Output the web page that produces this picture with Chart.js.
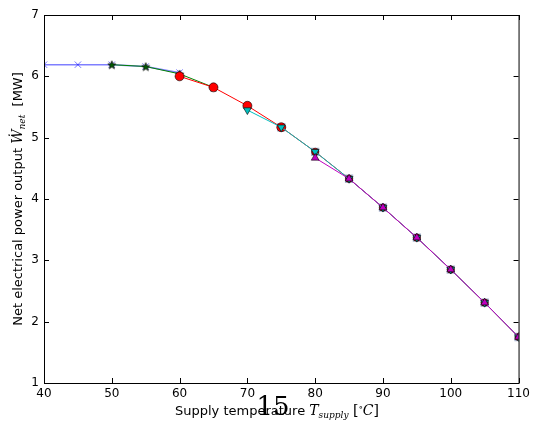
<!DOCTYPE html>
<html>
<head>
<meta charset="utf-8">
<script src="https://cdn.jsdelivr.net/npm/chart.js@4.4.9/dist/chart.umd.min.js"></script>
<style>
  html, body { margin:0; padding:0; background:#fff; }
  #wrap { width:534px; height:423px; position:relative; }
</style>
</head>
<body>
<div id="wrap"><canvas id="c"></canvas></div>
<script>
/* data */
const xTicks = [40, 50, 60, 70, 80, 90, 100, 110];
const yTicks = [1, 2, 3, 4, 5, 6, 7];

const blueT   = [40, 45, 50, 55, 60];
const blueW   = [6.19, 6.19, 6.19, 6.16, 6.06];
const greenT  = [50, 55, 60, 65];
const greenW  = [6.19, 6.16, 6.04, 5.82];
const redT    = [60, 65, 70, 75, 80, 85, 90, 95, 100, 105, 110];
const redW    = [6.00, 5.82, 5.52, 5.17, 4.77, 4.33, 3.86, 3.37, 2.85, 2.31, 1.75];
const cyanT   = [70, 75, 80, 85, 90, 95, 100, 105, 110];
const cyanW   = [5.45, 5.17, 4.77, 4.33, 3.86, 3.37, 2.85, 2.31, 1.75];
const magT    = [80, 85, 90, 95, 100, 105, 110];
const magW    = [4.67, 4.33, 3.86, 3.37, 2.85, 2.31, 1.75];
const sqT     = [75, 80, 85, 90, 95, 100, 105, 110];
const sqW     = [5.17, 4.77, 4.33, 3.86, 3.37, 2.85, 2.31, 1.75];

const pts = (xs, ys) => xs.map((x, i) => ({ x, y: ys[i] }));

/* filled star marker like matplotlib '*' */
const starImg = (() => {
  const c = document.createElement('canvas');
  c.width = 10; c.height = 10;
  const g = c.getContext('2d');
  g.beginPath();
  for (let i = 0; i < 10; i++) {
    const r = i % 2 ? 1.8 : 4.3;
    const a = -Math.PI / 2 + i * Math.PI / 5;
    const px = 5 + r * Math.cos(a), py = 5.5 + r * Math.sin(a);
    i ? g.lineTo(px, py) : g.moveTo(px, py);
  }
  g.closePath();
  g.fillStyle = '#005a00'; g.fill();
  g.lineWidth = 0.7; g.strokeStyle = '#000'; g.stroke();
  return c;
})();

const line = (data, color, style, extra) => Object.assign({
  data, borderColor: color, borderWidth: 1, backgroundColor: color,
  pointStyle: style, pointRadius: 4, pointBorderColor: '#000',
  pointBorderWidth: 0.6, tension: 0, fill: false
}, extra);

/* frame, inward ticks, titles */
const decor = {
  id: 'decor',
  afterDraw(chart) {
    const { ctx, chartArea: a, scales: { x, y } } = chart;
    ctx.save();
    ctx.strokeStyle = '#000'; ctx.lineWidth = 1;
    ctx.strokeRect(a.left + 0.5, a.top + 0.5, a.right - a.left, a.bottom - a.top);
    ctx.beginPath();
    xTicks.forEach(v => {
      const p = Math.round(x.getPixelForValue(v)) + 0.5;
      ctx.moveTo(p, a.bottom); ctx.lineTo(p, a.bottom - 5);
      ctx.moveTo(p, a.top); ctx.lineTo(p, a.top + 5);
    });
    yTicks.forEach(v => {
      const p = Math.round(y.getPixelForValue(v)) + 0.5;
      ctx.moveTo(a.left, p); ctx.lineTo(a.left + 5, p);
      ctx.moveTo(a.right, p); ctx.lineTo(a.right - 5, p);
    });
    ctx.stroke();

    // rich text helper: parts = [text, font, dy]
    const rich = (parts, cx, cy) => {
      let w = 0;
      parts.forEach(p => { ctx.font = p[1]; w += ctx.measureText(p[0]).width; });
      let px = cx - w / 2;
      ctx.textBaseline = 'alphabetic'; ctx.textAlign = 'left'; ctx.fillStyle = '#000';
      parts.forEach(p => { ctx.font = p[1]; ctx.fillText(p[0], px, cy + (p[2] || 0)); px += ctx.measureText(p[0]).width; });
    };
    const sans = '13px "DejaVu Sans"';
    const it = 'italic 14px "DejaVu Serif"';
    const sub = 'italic 9px "DejaVu Serif"';
    const ser = '14px "DejaVu Serif"';

    // page number artefact
    ctx.font = '26px "DejaVu Serif"';
    ctx.textAlign = 'center';
    ctx.fillStyle = '#000';
    ctx.fillText('15', 273, 415);

    rich([['Supply temperature ', sans], ['T', it], ['supply', sub, 3],
          [' [', ser], ['\u2218', '9px "DejaVu Serif"', -5], ['C', it], [']', ser]], 277, 415);

    ctx.translate(22, 199);
    ctx.rotate(-Math.PI / 2);
    rich([['Net electrical power output ', sans], ['\u1E86', it], ['net', sub, 3], ['  [MW]', sans]], 0, 0);
    ctx.restore();
  }
};

new Chart(document.getElementById('c'), {
  type: 'line',
  data: {
    datasets: [
      line(pts(magT, magW), '#bf00bf', 'triangle', { pointRadius: 4.5 }),
      line(pts(cyanT, cyanW), '#00bfbf', 'triangle', { pointRadius: 4.5, pointRotation: 180 }),
      line(pts(redT, redW), '#ff0000', 'circle', { pointRadius: redT.map(t => t <= 75 ? 4.5 : 3.6) }),
      line(pts(greenT, greenW), '#008000', starImg),
      line(pts(blueT, blueW), 'rgba(0,0,255,0.5)', 'crossRot',
           { pointBorderColor: 'rgba(0,0,255,0.55)', pointBorderWidth: 1, pointRadius: 4.5, borderWidth: 1.5 }),
      line(pts(sqT, sqW), 'rgba(0,0,0,0)', 'rect',
           { showLine: false, backgroundColor: '#5a7080', pointBorderColor: '#a8b4d0',
             pointBorderWidth: 1.2, pointRadius: 5 })
    ]
  },
  options: {
    responsive: true, maintainAspectRatio: false, animation: false,
    layout: { padding: { left: 0, right: 15, top: 15, bottom: 0 } },
    plugins: { legend: { display: false }, tooltip: { enabled: false } },
    scales: {
      x: {
        type: 'linear', min: 40, max: 110,
        afterBuildTicks: s => { s.ticks = xTicks.map(v => ({ value: v })); },
        afterFit: s => { s.height = 40; },
        grid: { display: false, drawTicks: false },
        border: { display: false },
        ticks: { color: '#000', padding: 4, font: { family: 'DejaVu Sans', size: 12 } }
      },
      y: {
        min: 1, max: 7,
        afterBuildTicks: s => { s.ticks = yTicks.map(v => ({ value: v })); },
        afterFit: s => { s.width = 44; },
        grid: { display: false, drawTicks: false },
        border: { display: false },
        ticks: { color: '#000', padding: 5, font: { family: 'DejaVu Sans', size: 12 } }
      }
    }
  },
  plugins: [decor]
});
</script>
</body>
</html>
